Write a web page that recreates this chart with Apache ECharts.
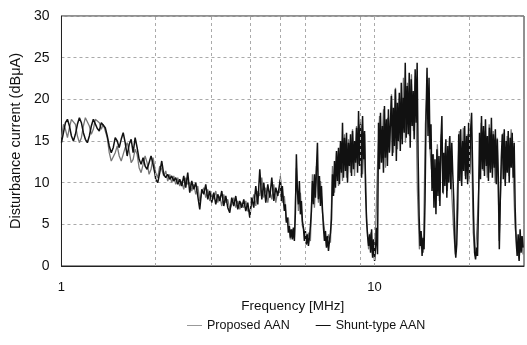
<!DOCTYPE html>
<html>
<head>
<meta charset="utf-8">
<title>Disturbance current</title>
<script src="https://cdn.jsdelivr.net/npm/echarts@6.0.0/dist/echarts.min.js"></script>
<style>
  html, body { margin: 0; padding: 0; background: #fff; }
  #main { width: 527px; height: 345px; }
</style>
</head>
<body>
<div id="main"></div>
<script type="text/javascript">
// frequency span of each sweep segment [MHz]
var segA = [1.0, 1.99];
var segB = [2.0, 4.98];
var segC = [5.0, 10.0];
var segD = [10.07, 29.8];

// Shunt-type AAN (black), dBuA
var shuntA = [14.8, 16.0, 17.2, 17.6, 16.8, 15.6, 15.0, 15.8, 17.0, 17.8, 17.2, 16.0, 15.2, 14.8, 15.6, 16.8,
  17.6, 17.4, 16.5, 16.2, 17.2, 17.4, 16.6, 15.6, 14.4, 13.6, 14.2, 15.4, 15.0, 14.2, 15.2, 16.0,
  14.8, 13.2, 14.6, 15.2, 13.6, 15.4, 14.2, 12.8, 12.2, 13.0, 12.0, 11.6, 12.4, 13.2, 12.2, 11.0];
var shuntB = [10.4, 10.0, 11.2, 12.6, 11.0, 10.6, 11.0, 10.4, 10.8, 10.2, 10.6, 9.8, 10.4, 9.6, 10.8, 9.4,
  11.2, 8.8, 10.2, 9.2, 10.0, 8.4, 6.8, 9.2, 8.6, 9.8, 8.0, 9.0, 7.6, 8.8, 7.4, 8.6,
  7.8, 9.0, 7.2, 8.4, 7.0, 6.4, 8.2, 7.2, 8.4, 6.8, 7.8, 7.0, 8.0, 6.6, 7.6, 5.8,
  8.2, 7.0, 9.6, 7.4, 11.6, 8.0, 10.0, 7.6, 9.8, 8.2, 10.6, 7.8, 9.4, 8.4, 10.0];
var shuntC = [10.4, 7.8, 9.6,
  8.0, 6.6, 7.4, 5.2, 5.8, 4.0, 4.8, 3.4, 4.4,
  3.2, 4.6, 3.0, 6.4, 13.4,
  9.0, 7.4, 10.2, 6.2, 7.8, 5.4,
  4.6, 3.0, 4.2, 2.6, 3.8, 2.4, 3.4, 4.8, 6.6,
  10.2, 7.4, 11.0, 8.2, 11.6, 14.8, 8.0, 10.8, 7.2, 9.6, 6.8,
  4.6, 3.0, 4.2, 2.2, 3.6, 1.8, 3.0, 4.0, 5.6,
  11.0, 8.4, 12.6, 9.4, 13.8, 10.2, 14.2, 9.8, 15.0, 11.2,
  17.2, 10.6, 15.4, 11.4, 16.0, 10.0, 14.8, 12.0, 15.8, 10.8, 16.2, 11.6, 15.0, 12.4, 16.6,
  11.2, 18.6, 12.0, 17.0, 10.6, 18.0, 12.8, 16.2,
  9.0, 5.4, 3.6, 2.4,
  3.8, 1.6, 4.4, 1.0, 3.2, 0.6];
var shuntD = [2.2, 4.6, 1.4,
  17.2, 11.6, 18.4, 12.4, 16.8, 11.2, 19.2, 13.0, 17.6, 12.0, 18.8, 13.6, 17.0,
  20.4, 13.2, 19.0, 14.4, 21.2, 12.6, 19.6, 15.0, 20.8, 13.8, 22.0, 14.6, 20.2, 16.0, 24.4, 15.4,
  21.6, 15.8, 23.2, 14.2, 22.4, 16.8, 21.0, 15.2, 23.6, 17.2, 24.4,
  13.0, 6.0, 2.4,
  4.2, 1.2, 3.4, 2.0,
  8.0, 18.0, 23.8, 15.6, 22.6, 14.0,
  17.0, 9.0, 13.4,
  7.0, 12.8, 6.2, 14.0, 8.4, 13.2, 7.2, 15.0, 18.0, 8.8, 13.6, 9.6, 15.2, 8.2, 14.4, 10.0, 15.6, 9.2, 14.8, 11.0,
  8.0, 3.0, 1.0, 2.6, 7.0,
  15.8, 10.2, 16.4, 9.6, 15.0, 11.4, 16.8, 10.4, 15.6, 9.8, 17.2, 11.0, 16.2, 18.4, 12.0,
  6.0, 1.6, 0.8, 2.2, 1.2, 7.4,
  16.0, 10.4, 18.0, 11.6, 16.8, 10.8, 17.6, 12.0, 15.6, 10.2, 16.6, 11.2, 17.8, 10.6, 15.8, 11.8, 16.4, 9.8, 15.2, 10.6,
  2.0, 8.0, 13.0,
  15.8, 10.4, 16.4, 9.6, 15.0, 11.2, 16.2, 10.0, 15.4, 11.8, 16.0, 10.6, 14.8,
  7.0, 3.0,
  1.2, 3.8, 0.6, 4.4, 1.6, 3.6, 2.2];

// Proposed AAN (grey), dBuA
var proposedA = [15.4, 17.0, 16.4, 15.4, 16.6, 17.6, 17.8, 17.0, 15.6, 14.8, 15.4, 16.8, 17.8, 17.6, 16.8, 15.8,
  16.4, 17.6, 17.8, 17.2, 16.4, 17.0, 16.8, 15.4, 13.6, 12.6, 12.4, 13.6, 14.4, 13.2, 12.6, 13.4,
  14.2, 14.8, 13.8, 12.4, 12.8, 14.0, 13.4, 11.8, 11.2, 12.2, 13.2, 12.4, 11.0, 11.6, 13.0, 11.6];
var proposedB = [11.2, 10.6, 12.0, 11.6, 10.8, 11.4, 10.2, 11.0, 10.0, 10.8, 9.8, 10.6, 9.6, 10.2, 9.2, 10.6,
  9.8, 10.0, 9.0, 9.8, 8.6, 9.6, 7.8, 8.8, 9.4, 8.2, 9.2, 7.8, 8.6, 8.0, 9.0, 7.6,
  8.4, 7.2, 8.6, 7.6, 8.0, 6.8, 7.4, 8.2, 7.0, 7.8, 6.8, 7.6, 7.0, 7.8, 6.6, 6.6,
  7.4, 8.6, 7.2, 9.0, 8.4, 10.6, 8.2, 9.4, 7.6, 9.0, 8.0, 9.8, 7.6, 9.0, 8.8];
var proposedC = [10.8, 7.6, 8.4, 5.4, 5.8, 3.2, 4.4, 3.4, 11.8, 6.6, 8.8, 4.8, 4.2, 2.6, 4.0, 3.0,
  11.0, 7.0, 12.0, 7.6, 10.2, 6.4, 4.4, 2.4, 3.8, 2.8, 12.0, 8.8, 13.6, 9.6, 14.6, 10.2,
  15.8, 10.6, 15.2, 11.2, 16.4, 10.8, 16.8, 12.2, 17.6, 11.0, 15.8, 5.8, 2.0, 4.0, 1.2, 3.0];
var proposedD = [4.0, 12.0, 18.0, 12.8, 18.8, 11.8, 17.8, 13.8, 20.6, 13.6, 21.4, 14.0, 20.2, 15.2, 22.6, 14.8,
  22.0, 15.6, 23.0, 16.2, 22.8, 9.0, 2.0, 3.8, 1.6, 17.0, 22.0, 15.0, 11.6, 13.4, 7.0, 14.6,
  7.8, 15.8, 8.6, 14.8, 9.0, 15.4, 9.8, 5.0, 1.4, 9.0, 16.2, 10.0, 16.6, 10.8, 15.8, 10.2,
  17.0, 4.0, 1.2, 5.0, 11.0, 17.2, 11.4, 16.2, 10.6, 17.0, 11.6, 16.2, 10.0, 15.4, 3.0, 11.0,
  16.0, 10.0, 15.6, 10.8, 16.4, 11.4, 4.6, 2.6, 0.8, 3.6, 1.4];

var yTicks = [0, 5, 10, 15, 20, 25, 30];
var gridFreqs = [2, 3, 4, 5, 6, 9, 10, 20];

// pair each reading with its frequency inside the (log) sweep segment
function sweep(seg, vals) {
  return vals.map(function (v, i) {
    var f = seg[0] * Math.pow(seg[1] / seg[0], i / (vals.length - 1));
    return [f, v];
  });
}

var shuntData = [].concat(sweep(segA, shuntA), sweep(segB, shuntB), sweep(segC, shuntC), sweep(segD, shuntD));
var proposedData = [].concat(sweep(segA, proposedA), sweep(segB, proposedB), sweep(segC, proposedC), sweep(segD, proposedD));

var chart = echarts.init(document.getElementById('main'));
var font = '"Liberation Sans", Arial, sans-serif';

chart.setOption({
  animation: false,
  textStyle: { fontFamily: font },
  grid: {
    left: 61, right: 3, top: 16, bottom: 79,
    show: true, borderColor: '#222', borderWidth: 1, backgroundColor: 'transparent'
  },
  legend: {
    top: 314, left: 182,
    itemWidth: 15, itemHeight: 1, itemGap: 26,
    textStyle: { fontSize: 12.5, color: '#111', fontFamily: font },
    data: [
      { name: 'Proposed AAN', icon: 'rect', itemStyle: { color: '#999' } },
      { name: 'Shunt-type AAN', icon: 'rect', itemStyle: { color: '#111' } }
    ]
  },
  xAxis: {
    type: 'log', logBase: 10, min: 1, max: 30,
    name: 'Frequency [MHz]', nameLocation: 'middle', nameGap: 33,
    nameTextStyle: { fontSize: 13.5, color: '#111' },
    axisLine: { lineStyle: { color: '#222' } },
    axisTick: { show: false },
    splitLine: { show: false },
    axisLabel: {
      margin: 15, fontSize: 13, color: '#111', showMaxLabel: false,
      formatter: function (v) { return (v === 1 || v === 10) ? String(v) : ''; }
    }
  },
  yAxis: {
    type: 'value', min: 0, max: 30, interval: 5,
    name: 'Disturbance current (dBμA)', nameLocation: 'middle', nameGap: 32,
    nameTextStyle: { fontSize: 14.5, color: '#111' },
    axisLine: { show: true, lineStyle: { color: '#222' } },
    axisTick: { show: false },
    axisLabel: {
      margin: 12, fontSize: 14, color: '#111',
      formatter: function (v) { return yTicks.indexOf(v) >= 0 ? String(v) : ''; }
    },
    splitLine: { show: true, lineStyle: { color: '#aaa', type: [3, 3], width: 1 } }
  },
  series: [
    {
      name: 'Proposed AAN', type: 'line', data: proposedData,
      showSymbol: false, clip: true, z: 2,
      lineStyle: { color: '#777', width: 1.3 },
      itemStyle: { color: '#999' },
      markLine: {
        silent: true, symbol: 'none', label: { show: false },
        lineStyle: { color: '#aaa', type: [3, 3], width: 1 },
        data: gridFreqs.map(function (f) { return { xAxis: f }; })
      }
    },
    {
      name: 'Shunt-type AAN', type: 'line', data: shuntData,
      showSymbol: false, clip: true, z: 3,
      lineStyle: { color: '#111', width: 1.5 },
      itemStyle: { color: '#111' }
    }
  ]
});
</script>
</body>
</html>
